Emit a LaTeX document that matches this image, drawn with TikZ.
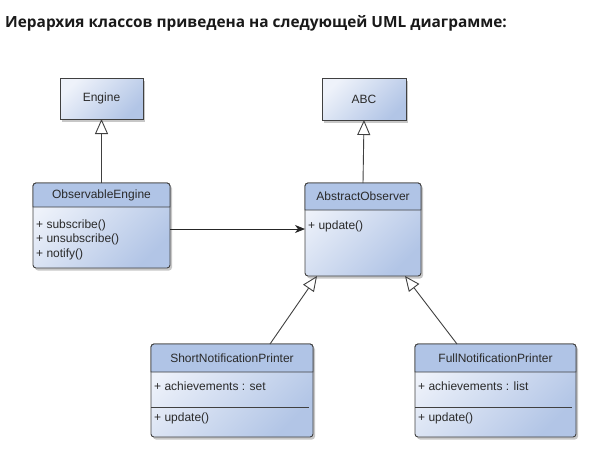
\documentclass[tikz,border=0pt]{standalone}
\usepackage{fontspec}
\setmainfont{Liberation Sans}
\newfontfamily\titlefont{Open Sans}
\usetikzlibrary{shadows,arrows.meta}
\definecolor{bodyA}{HTML}{EEF2FA}
\definecolor{bodyB}{HTML}{B2C5E6}
\definecolor{hdrcol}{HTML}{B0C4E6}
\definecolor{edge}{HTML}{404040}
\definecolor{txt}{HTML}{2A2A2A}
\tikzset{
  boxbase/.style={draw=edge, line width=0.9pt, inner sep=0pt, outer sep=0pt, anchor=north west,
    top color=bodyA, bottom color=bodyB, shading angle=45,
    drop shadow={shadow xshift=2pt, shadow yshift=-2.5pt, fill=black, opacity=0.22},
    font=\fontsize{12}{14}\selectfont, text=txt},
  simplebox/.style={boxbase},
  classbox/.style={boxbase, rounded corners=3pt},
  member/.style={anchor=west, inner sep=0pt, font=\fontsize{12}{14}\selectfont, text=txt},
  headtext/.style={inner sep=0pt, font=\fontsize{12}{14}\selectfont, text=txt},
  gen/.style={draw=edge, line width=0.9pt, -{Triangle[length=15pt,width=13pt,fill=white,line width=0.9pt]}},
  assoc/.style={draw=edge, line width=0.9pt, -{Stealth[length=10pt,width=8pt,inset=3pt]}, color=black!85},
}
\newcommand\classhdr[2]{%
  \path[fill=hdrcol, draw=edge, line width=0.9pt]
    ([yshift=-#2]#1.north west) [rounded corners=3pt] -- (#1.north west) -- (#1.north east)
    [sharp corners] -- ([yshift=-#2]#1.north east) -- cycle;}
\begin{document}
\begin{tikzpicture}[x=1pt,y=-1pt]
\useasboundingbox (0,0) rectangle (601,464);
\node[anchor=base west, inner sep=0pt, font=\titlefont\bfseries\fontsize{15.4}{17}\selectfont, text=black!90] (title) at (5,27)
  {Иерархия классов приведена на следующей UML диаграмме:};

% Engine and ABC
\node[simplebox, minimum width=83pt, minimum height=41pt] (eng) at (60,78) {Engine};
\node[simplebox, minimum width=84pt, minimum height=42pt] (abc) at (322,78) {ABC};

% ObservableEngine
\node[classbox, minimum width=137pt, minimum height=85pt] (oe) at (33,183) {};
\classhdr{oe}{24pt}
\node[headtext] (oeT) at ([yshift=-12pt]oe.north) {ObservableEngine};
\node[member] (oe1) at (36,225) {+ subscribe()};
\node[member] (oe2) at (36,239.5) {+ unsubscribe()};
\node[member] (oe3) at (36,254) {+ notify()};

% AbstractObserver
\node[classbox, minimum width=116pt, minimum height=93pt] (ao) at (305,183) {};
\classhdr{ao}{27pt}
\node[headtext] (aoT) at ([yshift=-13.5pt]ao.north) {AbstractObserver};
\node[member] (ao1) at (308,226) {+ update()};

% ShortNotificationPrinter
\node[classbox, minimum width=162pt, minimum height=93pt] (sn) at (151,344) {};
\classhdr{sn}{28pt}
\node[headtext] (snT) at ([yshift=-14pt]sn.north) {ShortNotificationPrinter};
\node[member] (sn1) at (154,386) {+ achievements : set};
\draw[edge, line width=0.9pt] ([yshift=-63pt]sn.north west) -- ([xshift=-4pt,yshift=-63pt]sn.north east);
\node[member] (sn2) at (154,418) {+ update()};

% FullNotificationPrinter
\node[classbox, minimum width=161pt, minimum height=93pt] (fn) at (415,344) {};
\classhdr{fn}{28pt}
\node[headtext] (fnT) at ([yshift=-14pt]fn.north) {FullNotificationPrinter};
\node[member] (fn1) at (418,386) {+ achievements : list};
\draw[edge, line width=0.9pt] ([yshift=-63pt]fn.north west) -- ([xshift=-4pt,yshift=-63pt]fn.north east);
\node[member] (fn2) at (418,418) {+ update()};

% connectors
\draw[gen] (oe.north) -- (eng.south);
\draw[gen] (ao.north) -- (abc.south);
\draw[assoc] ([yshift=-3.5pt]oe.east) coordinate (s1) -- (s1 -| ao.west);
\draw[gen] ([xshift=38pt]sn.north) -- ([xshift=-46pt]ao.south);
\draw[gen] ([xshift=-38.5pt]fn.north) -- ([xshift=42pt]ao.south);
\end{tikzpicture}
\end{document}
